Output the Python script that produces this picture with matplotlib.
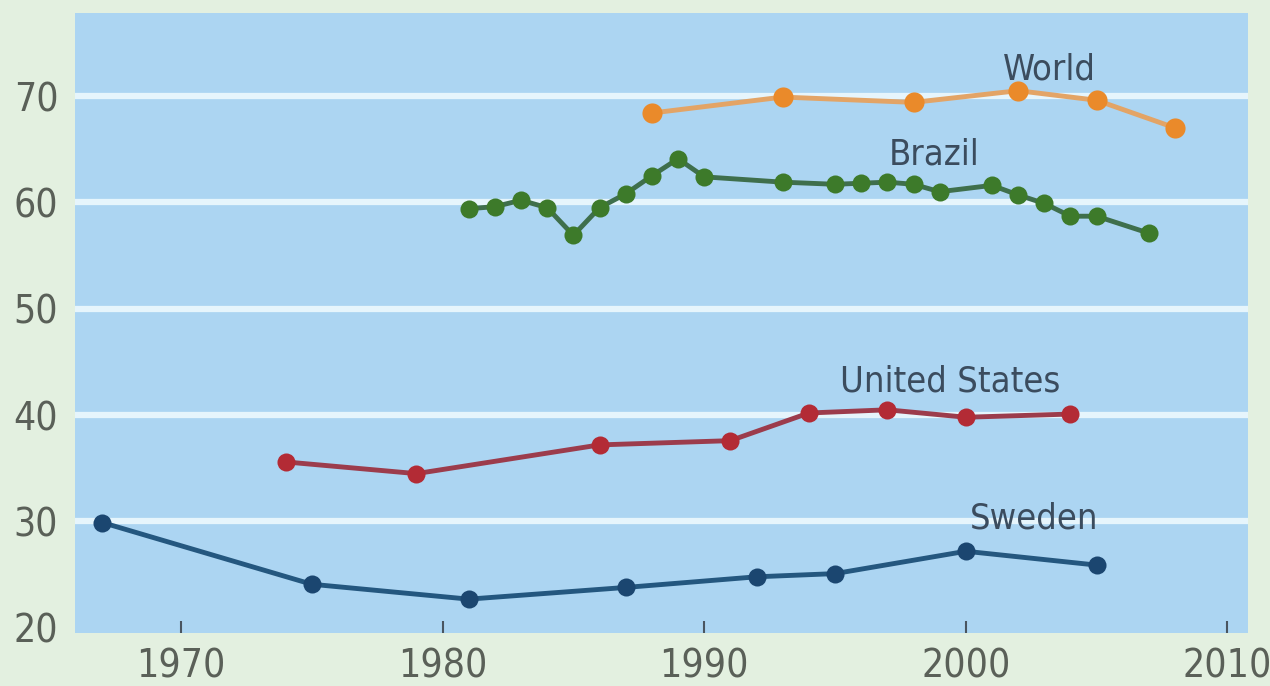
import matplotlib.pyplot as plt
from matplotlib import font_manager

# series values (percent) by survey year
world_years = [1988, 1993, 1998, 2002, 2005, 2008]
world_vals = [68.4, 69.9, 69.4, 70.5, 69.6, 67.0]

brazil_years = [1981, 1982, 1983, 1984, 1985, 1986, 1987, 1988, 1989, 1990,
                1993, 1995, 1996, 1997, 1998, 1999, 2001, 2002, 2003, 2004, 2005, 2007]
brazil_vals = [59.4, 59.6, 60.2, 59.5, 56.9, 59.5, 60.8, 62.5, 64.1, 62.4,
               61.9, 61.7, 61.8, 61.9, 61.7, 61.0, 61.6, 60.7, 59.9, 58.7, 58.7, 57.1]

us_years = [1974, 1979, 1986, 1991, 1994, 1997, 2000, 2004]
us_vals = [35.6, 34.5, 37.2, 37.6, 40.2, 40.5, 39.8, 40.1]

sweden_years = [1967, 1975, 1981, 1987, 1992, 1995, 2000, 2005]
sweden_vals = [29.9, 24.1, 22.7, 23.8, 24.8, 25.1, 27.2, 25.9]

y_ticks = [20, 30, 40, 50, 60, 70]
grid_levels = [30, 40, 50, 60, 70]
x_ticks = [1970, 1980, 1990, 2000, 2010]

# prefer a condensed face if one is installed
cond = [f for f in font_manager.fontManager.ttflist
        if f.stretch in ('condensed', 'semi-condensed', 'extra-condensed')
        or 'Narrow' in f.name or 'Condensed' in f.name]
if cond:
    plt.rcParams['font.family'] = [cond[0].name, 'DejaVu Sans']
    plt.rcParams['font.stretch'] = cond[0].stretch
else:
    plt.rcParams['font.family'] = ['Liberation Sans', 'DejaVu Sans']

fig = plt.figure(figsize=(12.7, 6.86), dpi=100, facecolor='#e3f0e0')
ax = fig.add_axes([0.059, 0.077, 0.924, 0.904])
ax.set_facecolor('#acd5f2')

for lvl in grid_levels:
    ax.axhline(lvl, color='#e6f5fc', lw=4.5, zorder=1)

series = [
    (world_years, world_vals, '#e3a466', '#ea8a2a', 14.5),
    (brazil_years, brazil_vals, '#3f6f4c', '#3d7a2a', 13),
    (us_years, us_vals, '#9c3c4c', '#b32b35', 13),
    (sweden_years, sweden_vals, '#24577f', '#1b4670', 13),
]
for yrs, vals, lc, mc, ms in series:
    ax.plot(yrs, vals, color=lc, lw=3.5, zorder=3)
    ax.plot(yrs, vals, 'o', color=mc, ms=ms, mec='none', zorder=4)

lbl = dict(fontsize=26, color='#3b4c5e', ha='center', va='center', zorder=5)
ax.text(2003.2, 72.5, 'World', **lbl)
ax.text(1998.8, 64.5, 'Brazil', **lbl)
ax.text(1999.4, 43.2, 'United States', **lbl)
ax.text(2002.6, 30.3, 'Sweden', **lbl)

ax.set_xlim(1965.95, 2010.8)
ax.set_ylim(19.5, 77.8)
ax.set_xticks(x_ticks)
ax.set_yticks(y_ticks)
ax.tick_params(axis='x', direction='in', length=9, width=1.5, color='#4a5560',
               labelsize=28, labelcolor='#5a6058', pad=10)
ax.tick_params(axis='y', length=0, labelsize=28, labelcolor='#5a6058', pad=12)
for s in ax.spines.values():
    s.set_visible(False)

fig.savefig('out.png', dpi=100, facecolor=fig.get_facecolor())
